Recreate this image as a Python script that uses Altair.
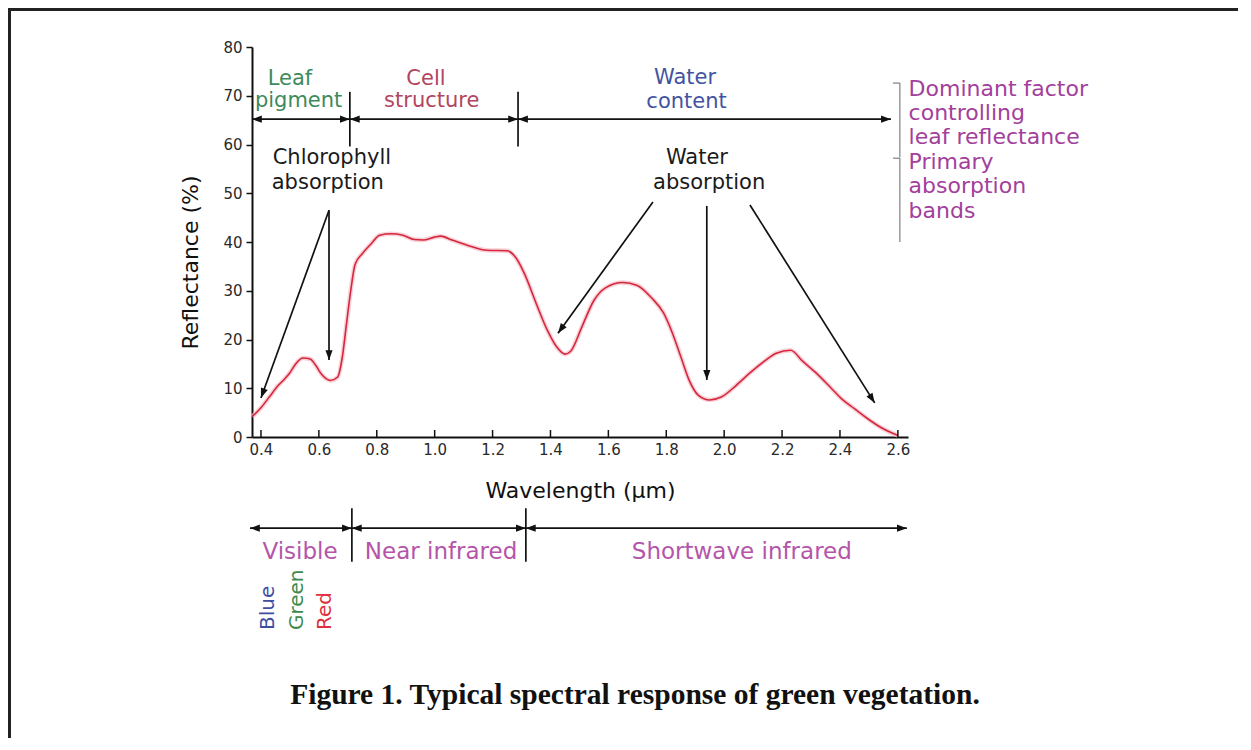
import math
import altair as alt
import pandas as pd

# ---------------- data ----------------
wavelength = [0.37, 0.40, 0.43, 0.46, 0.48, 0.50, 0.52, 0.545, 0.57, 0.59, 0.61, 0.64,
              0.665, 0.68, 0.695, 0.71, 0.725, 0.75, 0.78, 0.81, 0.85, 0.89, 0.93, 0.96,
              1.00, 1.02, 1.06, 1.12, 1.18, 1.25, 1.28, 1.31, 1.35, 1.39, 1.42, 1.45,
              1.47, 1.51, 1.55, 1.59, 1.65, 1.70, 1.75, 1.79, 1.82, 1.85, 1.88, 1.91,
              1.95, 1.99, 2.04, 2.09, 2.14, 2.18, 2.23, 2.27, 2.32, 2.37, 2.41, 2.45,
              2.49, 2.54, 2.58, 2.60]
reflectance = [4.2, 6.0, 8.3, 10.6, 11.8, 13.2, 15.0, 16.2, 16.0, 14.6, 12.8, 11.6,
               12.3, 16.0, 23.0, 30.0, 35.4, 37.6, 39.6, 41.4, 41.7, 41.4, 40.5, 40.4,
               41.0, 41.2, 40.4, 39.2, 38.3, 38.2, 36.8, 33.5, 27.5, 21.8, 18.6, 17.0,
               17.6, 22.8, 28.0, 30.6, 31.7, 31.1, 28.5, 25.5, 21.5, 16.5, 11.5, 8.6,
               7.6, 8.2, 10.5, 13.2, 15.6, 17.2, 17.8, 15.6, 13.0, 10.0, 7.6, 5.8,
               4.0, 2.0, 0.8, 0.3]

x_ticks = [0.4, 0.6, 0.8, 1.0, 1.2, 1.4, 1.6, 1.8, 2.0, 2.2, 2.4, 2.6]
y_ticks = [0, 10, 20, 30, 40, 50, 60, 70, 80]

# annotation texts
label_text = ["Leaf", "pigment", "Cell", "structure", "Water", "content",
              "Chlorophyll", "absorption", "Water", "absorption",
              "Visible", "Near infrared", "Shortwave infrared"]
label_x = [0.50, 0.53, 0.97, 0.99, 1.865, 1.87,
           0.645, 0.631, 1.906, 1.948,
           0.535, 1.022, 2.061]
label_y = [73.4, 68.9, 73.4, 68.9, 73.6, 68.7,
           57.2, 52.1, 57.2, 52.1,
           -23.6, -23.6, -23.6]
label_color = ["#3d8a5c", "#3d8a5c", "#b2455f", "#b2455f", "#4453a0", "#4453a0",
               "#1a1a1a", "#1a1a1a", "#1a1a1a", "#1a1a1a",
               "#b455aa", "#b455aa", "#b455aa"]
label_size = [21, 21, 21, 21, 21, 21, 21, 21, 21, 21, 23, 23, 23]

side_text = ["Dominant factor", "controlling", "leaf reflectance",
             "Primary", "absorption", "bands"]
side_x = [2.637] * 6
side_y = [71.4, 66.5, 61.5, 56.4, 51.5, 46.4]

band_text = ["Blue", "Green", "Red"]
band_x = [0.424, 0.524, 0.621]
band_y = [-39.6, -39.6, -39.6]
band_color = ["#3f4ea3", "#3d8a4c", "#e0303e"]

# arrows: x, y, x2, y2, head at start, head at end
arrow_x = [0.369, 0.707, 1.288, 0.362, 0.714, 1.315, 0.635, 0.635, 1.754, 1.94, 2.089]
arrow_y = [65.2, 65.2, 65.2, -18.7, -18.7, -18.7, 46.5, 46.5, 48.2, 47.4, 47.6]
arrow_x2 = [0.707, 1.288, 2.576, 0.714, 1.315, 2.631, 0.40, 0.635, 1.426, 1.94, 2.52]
arrow_y2 = [65.2, 65.2, 65.2, -18.7, -18.7, -18.7, 8.0, 15.8, 21.3, 11.7, 7.0]
arrow_head_start = [True, True, True, True, True, True, False, False, False, False, False]

# divider ticks on the bands
div_x = [0.707, 1.288, 0.714, 1.315]
div_y = [59.6, 59.6, -14.6, -14.6]
div_y2 = [70.8, 70.8, -25.6, -25.6]

# side brackets
brk_x = [2.607, 2.583, 2.607, 2.583]
brk_y = [72.6, 72.6, 57.2, 57.2]
brk_x2 = [2.607, 2.607, 2.607, 2.607]
brk_y2 = [57.4, 72.6, 40.0, 57.2]

caption = "Figure 1. Typical spectral response of green vegetation."

# ---------------- layout ----------------
X_DOMAIN = [0.369, 2.635]
Y_DOMAIN = [0, 80]
W, H = 656, 390
PAD = {"left": 244, "top": 39, "right": 330, "bottom": 301}
PX_X = W / (X_DOMAIN[1] - X_DOMAIN[0])
PX_Y = H / (Y_DOMAIN[1] - Y_DOMAIN[0])

xs = alt.Scale(domain=X_DOMAIN, nice=False, zero=False)
ys = alt.Scale(domain=Y_DOMAIN, nice=False, zero=False)

x_axis = alt.Axis(values=x_ticks, format=".1f", ticks=False, labelPadding=5,
                  domainColor="#111", domainWidth=2, grid=False,
                  labelFontSize=15, labelColor="#2a2a2a",
                  title="Wavelength (µm)", titleFontSize=22, titleFontWeight="normal",
                  titleColor="#111", titleX=W / 2, titleY=53, titleBaseline="middle")
y_axis = alt.Axis(values=y_ticks, tickSize=6, tickColor="#111", tickWidth=1.5,
                  labelPadding=4, domainColor="#111", domainWidth=2, grid=False,
                  labelFontSize=15, labelColor="#2a2a2a",
                  title="Reflectance (%)", titleFontSize=22, titleFontWeight="normal",
                  titleColor="#111", titleX=-62, titleY=215, titleAngle=270,
                  titleAlign="center", titleBaseline="middle")


def X(field):
    return alt.X(field, type="quantitative", scale=xs, axis=x_axis)


def Y(field):
    return alt.Y(field, type="quantitative", scale=ys, axis=y_axis)


curve = pd.DataFrame({"w": wavelength, "r": reflectance})

halo = alt.Chart(curve).mark_line(color="#f6bcc8", strokeWidth=4.5, opacity=0.7,
                                  interpolate="monotone").encode(x=X("w"), y=Y("r"))
line = alt.Chart(curve).mark_line(color="#d4283c", strokeWidth=1.6,
                                  interpolate="monotone").encode(x=X("w"), y=Y("r"))

xt = pd.DataFrame({"t": x_ticks})
xtick_layer = alt.Chart(xt).mark_rule(color="#111", strokeWidth=1.5).encode(
    x=X("t"), y=alt.value(H), y2=alt.value(H - 7))

arrows = pd.DataFrame({"x": arrow_x, "y": arrow_y, "x2": arrow_x2, "y2": arrow_y2})
arrow_layer = alt.Chart(arrows).mark_rule(color="#111", strokeWidth=1.7).encode(
    x=X("x"), y=Y("y"), x2="x2:Q", y2="y2:Q")

divs = pd.DataFrame({"x": div_x, "y": div_y, "y2": div_y2})
div_layer = alt.Chart(divs).mark_rule(color="#111", strokeWidth=1.7).encode(
    x=X("x"), y=Y("y"), y2="y2:Q")

brk = pd.DataFrame({"x": brk_x, "y": brk_y, "x2": brk_x2, "y2": brk_y2})
brk_layer = alt.Chart(brk).mark_rule(color="#666", strokeWidth=1).encode(
    x=X("x"), y=Y("y"), x2="x2:Q", y2="y2:Q")


def head_angle(dx, dy):
    sx = dx * PX_X
    sy = -dy * PX_Y
    return math.degrees(math.atan2(sx, -sy)) % 360


hx, hy, ha = [], [], []
for i in range(len(arrow_x)):
    dx = arrow_x2[i] - arrow_x[i]
    dy = arrow_y2[i] - arrow_y[i]
    hx.append(arrow_x2[i]); hy.append(arrow_y2[i]); ha.append(head_angle(dx, dy))
    if arrow_head_start[i]:
        hx.append(arrow_x[i]); hy.append(arrow_y[i]); ha.append(head_angle(-dx, -dy))
heads = pd.DataFrame({"x": hx, "y": hy, "a": ha})
head_layer = alt.Chart(heads).mark_point(
    shape="M0,0L0.8,2.2L-0.8,2.2Z", filled=True, size=80, color="#111", opacity=1
).encode(x=X("x"), y=Y("y"), angle=alt.Angle("a:Q", scale=None))

labs = pd.DataFrame({"text": label_text, "x": label_x, "y": label_y,
                     "color": label_color, "size": label_size})
label_layer = alt.Chart(labs).mark_text(font="DejaVu Sans", baseline="middle",
                                        align="center").encode(
    x=X("x"), y=Y("y"), text="text:N",
    color=alt.Color("color:N", scale=None), size=alt.Size("size:Q", scale=None))

side = pd.DataFrame({"text": side_text, "x": side_x, "y": side_y})
side_layer = alt.Chart(side).mark_text(font="DejaVu Sans", baseline="middle", align="left",
                                       fontSize=22, color="#a2409c").encode(
    x=X("x"), y=Y("y"), text="text:N")

bands = pd.DataFrame({"text": band_text, "x": band_x, "y": band_y, "color": band_color})
band_layer = alt.Chart(bands).mark_text(font="DejaVu Sans", baseline="middle", align="left",
                                        angle=270, fontSize=20).encode(
    x=X("x"), y=Y("y"), text="text:N", color=alt.Color("color:N", scale=None))

cap = pd.DataFrame({"text": [caption]})
cap_layer = alt.Chart(cap).mark_text(font="Liberation Serif", fontWeight="bold", fontSize=29.5,
                                     color="#111", align="center", baseline="middle").encode(
    text="text:N", x=alt.value(383), y=alt.value(648))

frame = pd.DataFrame({"k": [0]})
frame_top = alt.Chart(frame).mark_rule(color="#222", strokeWidth=3).encode(
    x=alt.value(-PAD["left"]), x2=alt.value(W + PAD["right"]), y=alt.value(-PAD["top"] + 1.5))
frame_left = alt.Chart(frame).mark_rule(color="#222", strokeWidth=3).encode(
    x=alt.value(-PAD["left"] + 1.5), y=alt.value(-PAD["top"]), y2=alt.value(H + PAD["bottom"]))

chart = alt.layer(
    halo, line, xtick_layer, arrow_layer, div_layer, brk_layer, head_layer,
    label_layer, side_layer, band_layer, cap_layer, frame_top, frame_left
).properties(
    width=W, height=H, padding=PAD,
    autosize=alt.AutoSizeParams(type="none"), background="white"
).configure_view(stroke=None).configure_axis(labelFont="DejaVu Sans", titleFont="DejaVu Sans")

chart.save("out.html", embed_options={"renderer": "svg", "actions": False})
